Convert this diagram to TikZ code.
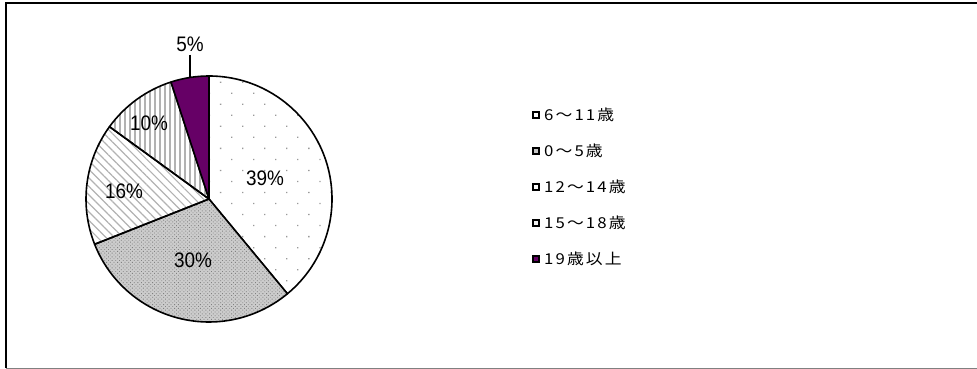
\documentclass[tikz,border=0pt]{standalone}
\usepackage{fontspec}
\setmainfont{Liberation Sans}
\newfontfamily\jpfont[LetterSpace=14,FakeStretch=1.12]{Noto Sans CJK JP}
\newfontfamily\pctfont[FakeStretch=0.9]{Liberation Sans}
\usetikzlibrary{patterns,patterns.meta}
\definecolor{agePurple}{RGB}{102,0,102}

\tikzset{
  pieSlice/.style={draw=black, line width=1.6pt, line join=round},
  dotFill/.style={pattern={Dots[angle=45,distance=15.6pt,radius=0.9pt]}, pattern color=gray!80},
  checkFill/.style={preaction={fill=gray!40}, pattern={Dots[angle=45,distance=2.6pt,radius=0.6pt]}, pattern color=gray},
  diagFill/.style={pattern={Lines[angle=-45,distance=6pt,line width=1.2pt]}, pattern color=gray!60},
  vertFill/.style={pattern={Lines[angle=90,distance=5pt,line width=1.2pt]}, pattern color=gray!60},
  pctLabel/.style={font=\pctfont\fontsize{21}{21}\selectfont, inner sep=0pt},
  keyBox/.style={draw=black, line width=1.8pt, minimum size=6pt, inner sep=0pt},
  keyText/.style={font=\jpfont\fontsize{15}{15}\selectfont, anchor=west, inner sep=0pt}
}

\begin{document}
\begin{tikzpicture}[x=1pt,y=1pt]
  \useasboundingbox (0,0) rectangle (977,369);
  % frame
  \draw[line width=2pt] (5.5,1) -- (5.5,366) -- (977,366);
  \draw[gray, line width=1pt] (5.5,0.5) -- (977,0.5);

  % pie
  \coordinate (ctr) at (209,170);
  \draw[pieSlice, dotFill] (ctr) -- ++(90:123pt) arc[start angle=90, end angle=-50.4, radius=123pt] -- cycle;
  \draw[pieSlice, checkFill] (ctr) -- ++(-50.4:123pt) arc[start angle=-50.4, end angle=-158.4, radius=123pt] -- cycle;
  \draw[pieSlice, diagFill] (ctr) -- ++(-158.4:123pt) arc[start angle=-158.4, end angle=-216, radius=123pt] -- cycle;
  \draw[pieSlice, vertFill] (ctr) -- ++(144:123pt) arc[start angle=144, end angle=108, radius=123pt] -- cycle;
  \draw[pieSlice, fill=agePurple] (ctr) -- ++(108:123pt) arc[start angle=108, end angle=90, radius=123pt] -- cycle;

  % percentages
  \node[pctLabel] (p39) at (265,191) {39\%};
  \node[pctLabel] (p30) at (193,109) {30\%};
  \node[pctLabel] (p16) at (124,178) {16\%};
  \node[pctLabel] (p10) at (149,246) {10\%};
  \node[pctLabel] (p5) at (190,325) {5\%};
  \path (ctr) ++(99:123pt) coordinate (leadEnd);
  \draw[line width=1.6pt] (leadEnd |- p5.south) ++(0,-3) -- (leadEnd);

  % legend
  \node[keyBox, fill=white] (k611) at (536,254) {};
  \node[keyText] (t611) at (544,254) {6～11歳};
  \node[keyBox, fill=gray!45] (k05) at (536,218) {};
  \node[keyText] (t05) at (544,218) {0～5歳};
  \node[keyBox, fill=white] (k1214) at (536,182) {};
  \node[keyText] (t1214) at (544,182) {12～14歳};
  \node[keyBox, fill=gray!10] (k1518) at (536,146) {};
  \node[keyText] (t1518) at (544,146) {15～18歳};
  \node[keyBox, fill=agePurple] (k19) at (536,110) {};
  \node[keyText] (t19) at (544,110) {19歳以上};
\end{tikzpicture}
\end{document}
